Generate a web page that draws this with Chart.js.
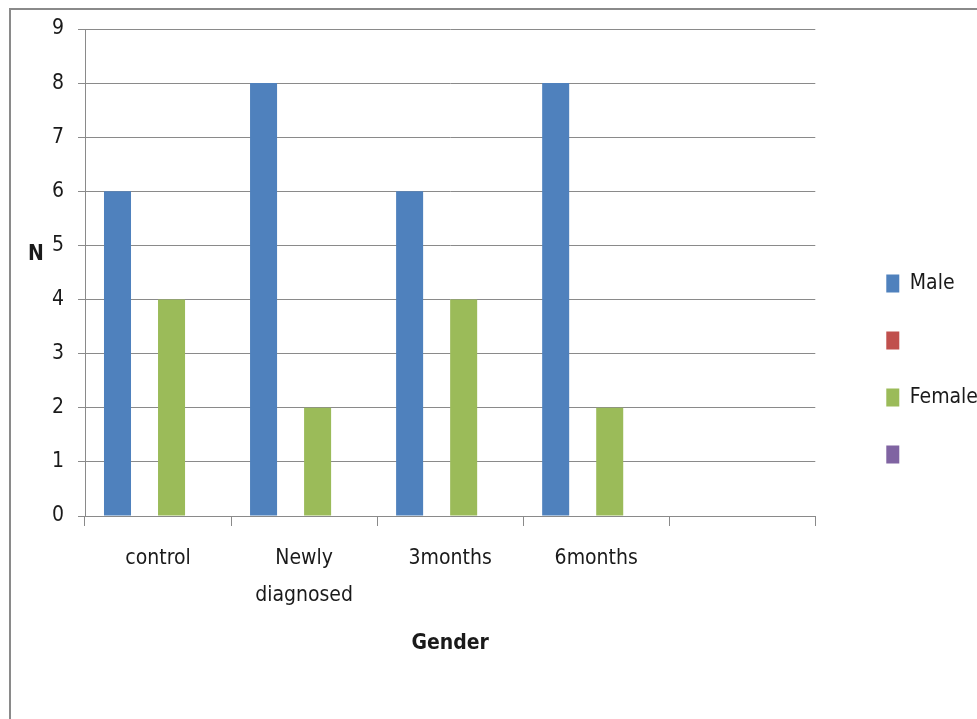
<!DOCTYPE html>
<html lang="en">
<head>
<meta charset="UTF-8">
<title>Gender by group</title>
<script src="https://cdn.jsdelivr.net/npm/chart.js"></script>
<style>
    body {
        margin: 0;
        background: #fff;
        overflow: hidden;
    }

    .frame {
        position: absolute;
        left: 9px;
        top: 8px;
        width: 1000px;
        height: 780px;
        border: 2px solid #8a8a8a;
    }

    .wrap {
        position: absolute;
        left: 0;
        top: 0;
        width: 977px;
        height: 719px;
    }
</style>
</head>
<body>
<div class="frame"></div>
<div class="wrap"><canvas id="genderChart"></canvas></div>

<script>
    // groups on the x axis (last slot is left empty)
    const groups = [['control'], ['Newly', 'diagnosed'], ['3months'], ['6months'], ''];

    // series, in legend order
    const seriesNames = ['Male', '', 'Female', ''];
    const maleCounts = [6, 8, 6, 8, null];
    const unusedA = [null, null, null, null, null];
    const femaleCounts = [4, 2, 4, 2, null];
    const unusedB = [null, null, null, null, null];
    const seriesColors = ['#4f81bd', '#c0504d', '#9bbb59', '#8064a2'];

    const yMin = 0, yMax = 9, yStep = 1;

    // pick the narrowest installed face, with a size that suits it
    function pickFont() {
        const candidates = [
            { family: 'Liberation Sans Narrow', size: 24 },
            { family: 'DejaVu Sans Condensed', size: 21 },
            { family: 'Liberation Sans', size: 22 }
        ];
        const c = document.createElement('canvas').getContext('2d');
        const sample = 'control Female 0123';
        c.font = '40px monospace';
        const mono = c.measureText(sample).width;
        for (const f of candidates) {
            c.font = `40px '${f.family}', monospace`;
            if (Math.abs(c.measureText(sample).width - mono) > 0.5) return f;
        }
        return { family: 'sans-serif', size: 22 };
    }

    const picked = pickFont();
    const FONT = `'${picked.family}', sans-serif`;
    const FS = picked.size;
    const GRID = '#8a8a8a';
    const TEXT = '#1a1a1a';

    const seriesData = [maleCounts, unusedA, femaleCounts, unusedB];

    // upright "N" to the left of the value axis
    const yTitle = {
        id: 'yTitle',
        afterDraw(chart) {
            const { ctx, chartArea } = chart;
            ctx.save();
            ctx.font = `bold ${FS}px ${FONT}`;
            ctx.fillStyle = TEXT;
            ctx.textAlign = 'center';
            ctx.textBaseline = 'middle';
            ctx.fillText('N', chartArea.left - 49, (chartArea.top + chartArea.bottom) / 2 - 18);
            ctx.restore();
        }
    };

    // leave some white space between the plot and the legend
    const legendGap = {
        id: 'legendGap',
        afterLayout(chart) {
            const lg = chart.legend;
            const dx = 35, dy = -5;
            lg.left += dx;
            lg.right += dx;
            lg.top += dy;
            lg.bottom += dy;
        }
    };

    new Chart(document.getElementById('genderChart'), {
        type: 'bar',
        data: {
            labels: groups,
            datasets: seriesData.map((d, i) => ({
                label: seriesNames[i],
                data: d,
                backgroundColor: seriesColors[i],
                borderWidth: 0
            }))
        },
        options: {
            responsive: true,
            maintainAspectRatio: false,
            animation: false,
            categoryPercentage: 0.74,
            barPercentage: 1.0,
            layout: { padding: { top: 29, right: 24, bottom: 0, left: 0 } },
            plugins: {
                tooltip: { enabled: false },
                legend: {
                    position: 'right',
                    align: 'center',
                    labels: {
                        boxWidth: 13,
                        boxHeight: 18,
                        padding: 57 - FS,
                        color: TEXT,
                        font: { family: FONT, size: FS }
                    }
                }
            },
            scales: {
                x: {
                    offset: true,
                    grid: {
                        offset: true,
                        drawOnChartArea: false,
                        drawTicks: true,
                        tickLength: 10,
                        color: GRID
                    },
                    border: { color: GRID },
                    ticks: {
                        color: TEXT,
                        padding: 14,
                        maxRotation: 0,
                        font: { family: FONT, size: FS, lineHeight: 37 / FS }
                    },
                    title: {
                        display: true,
                        text: 'Gender',
                        color: TEXT,
                        font: { family: FONT, size: FS, weight: 'bold' },
                        padding: { top: 0, bottom: 63 }
                    },
                    afterFit(scale) { scale.height = 203; }
                },
                y: {
                    min: yMin,
                    max: yMax,
                    grid: {
                        color: GRID,
                        drawTicks: true,
                        tickLength: 7
                    },
                    border: { color: GRID },
                    ticks: {
                        stepSize: yStep,
                        color: TEXT,
                        padding: 14,
                        font: { family: FONT, size: FS }
                    },
                    afterFit(scale) { scale.width = 85; }
                }
            }
        },
        plugins: [yTitle, legendGap]
    });
</script>
</body>
</html>
